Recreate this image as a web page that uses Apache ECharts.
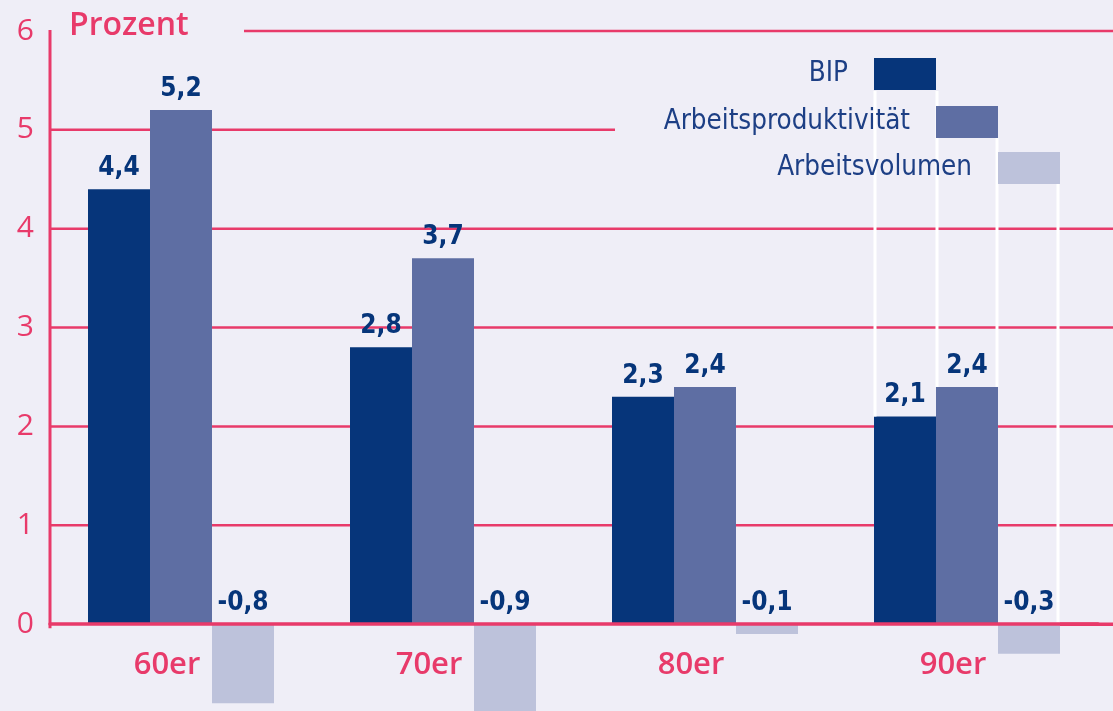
<!DOCTYPE html>
<html>
<head>
<meta charset="utf-8">
<script src="https://cdn.jsdelivr.net/npm/echarts@6/dist/echarts.min.js"></script>
<style>
  html, body { margin: 0; padding: 0; background: #efeef7; }
  #main { width: 1113px; height: 711px; }
</style>
</head>
<body>
<div id="main"></div>
<script>
const categories = ['60er', '70er', '80er', '90er'];
const bip = [4.4, 2.8, 2.3, 2.1];
const produktivitaet = [5.2, 3.7, 2.4, 2.4];
const volumen = [-0.8, -0.9, -0.1, -0.3];
const yTicks = [0, 1, 2, 3, 4, 5, 6];

const pink = '#e83a6a';
const bg = '#efeef7';
const navy = '#06357a';
const condensed = "'Liberation Sans Narrow', 'DejaVu Sans Condensed', 'Roboto Condensed', 'Open Sans', sans-serif";
const pinkFont = "'Open Sans', 'Noto Sans', sans-serif";

const dom = document.getElementById('main');
const chart = echarts.init(dom);

const gridHeight = 692;
const unitPx = gridHeight / 7; // axis runs from -1 to 6

const fmt = p => String(p.value).replace('.', ',');
const barLabel = {
  show: true,
  position: 'top',
  distance: 8,
  color: navy,
  fontFamily: condensed,
  fontSize: 26,
  fontWeight: 'bold',
  formatter: fmt
};

const legendBase = {
  orient: 'horizontal',
  align: 'right',
  icon: 'rect',
  itemWidth: 62,
  itemHeight: 32,
  padding: 0,
  selectedMode: false,
  textStyle: {
    color: '#1d3f85',
    fontFamily: condensed,
    fontSize: 27.5,
    padding: [0, 21, 0, 0]
  }
};

const option = {
  backgroundColor: bg,
  animation: false,
  grid: { left: 50, top: 31, width: 1048, height: gridHeight, outerBoundsMode: 'none', containLabel: false },
  legend: [
    Object.assign({}, legendBase, { data: ['BIP'], right: 177, top: 58 }),
    Object.assign({}, legendBase, { data: ['Arbeitsproduktivität'], right: 115, top: 106 }),
    Object.assign({}, legendBase, { data: ['Arbeitsvolumen'], right: 53, top: 152 })
  ],
  xAxis: {
    type: 'category',
    data: categories,
    offset: -unitPx,
    z: 3,
    axisTick: { show: false },
    axisLine: { show: true, onZero: false, lineStyle: { color: pink, width: 3.5 } },
    axisLabel: {
      color: pink,
      fontFamily: pinkFont,
      fontSize: 31,
      fontWeight: 600,
      margin: 26,
      padding: [0, 28, 0, 0]
    }
  },
  yAxis: {
    type: 'value',
    min: -1,
    max: 6,
    interval: 1,
    axisLine: { show: false },
    axisTick: { show: false },
    splitLine: { show: false },
    axisLabel: {
      color: pink,
      fontFamily: pinkFont,
      fontSize: 30,
      margin: 16,
      formatter: v => (v < 0 ? '' : String(v))
    }
  },
  series: [
    { name: 'BIP', type: 'bar', data: bip, barWidth: 62, barGap: '0%',
      itemStyle: { color: navy }, label: barLabel },
    { name: 'Arbeitsproduktivität', type: 'bar', data: produktivitaet, barWidth: 62, barGap: '0%',
      itemStyle: { color: '#5e6ea3' }, label: barLabel },
    { name: 'Arbeitsvolumen', type: 'bar', data: volumen, barWidth: 62, barGap: '0%',
      itemStyle: { color: '#bdc2db' }, label: barLabel }
  ]
};
chart.setOption(option);

// grid lines (with the gaps for unit and legend), axis line, leader lines
const yp = v => chart.convertToPixel({ yAxisIndex: 0 }, v);
const c90 = chart.convertToPixel({ xAxisIndex: 0 }, '90er');
const W = chart.getWidth();

const graphics = [];
yTicks.forEach(t => {
  if (t === 0) return; // drawn by the x axis
  let x1 = 50, x2 = W;
  if (t === 6) x1 = 244;
  if (t === 5) x2 = 615;
  graphics.push({ type: 'line', z: 0, silent: true,
    shape: { x1: x1, y1: yp(t), x2: x2, y2: yp(t) },
    style: { stroke: pink, lineWidth: 2.5 } });
});
graphics.push({ type: 'line', z: 3, silent: true,
  shape: { x1: 1060, y1: yp(0), x2: W, y2: yp(0) },
  style: { stroke: pink, lineWidth: 3.5 } });
graphics.push({ type: 'line', z: 3, silent: true,
  shape: { x1: 50, y1: yp(6) - 1, x2: 50, y2: yp(0) + 4 },
  style: { stroke: pink, lineWidth: 3 } });
graphics.push({ type: 'text', z: 10, silent: true, left: 69, top: 10,
  style: { text: 'Prozent', fill: pink, font: '600 32px ' + pinkFont } });
const white = (x, y1, y2) => graphics.push({ type: 'line', z: 3, silent: true,
  shape: { x1: x, y1: y1, x2: x, y2: y2 }, style: { stroke: '#ffffff', lineWidth: 3 } });
white(c90 - 92, 91, yp(bip[3]));
white(c90 - 30, 91, yp(produktivitaet[3]));
white(c90 + 30, 138, yp(produktivitaet[3]));
white(c90 + 91, 184, yp(0) - 2);

chart.setOption({ graphic: graphics });
</script>
</body>
</html>
